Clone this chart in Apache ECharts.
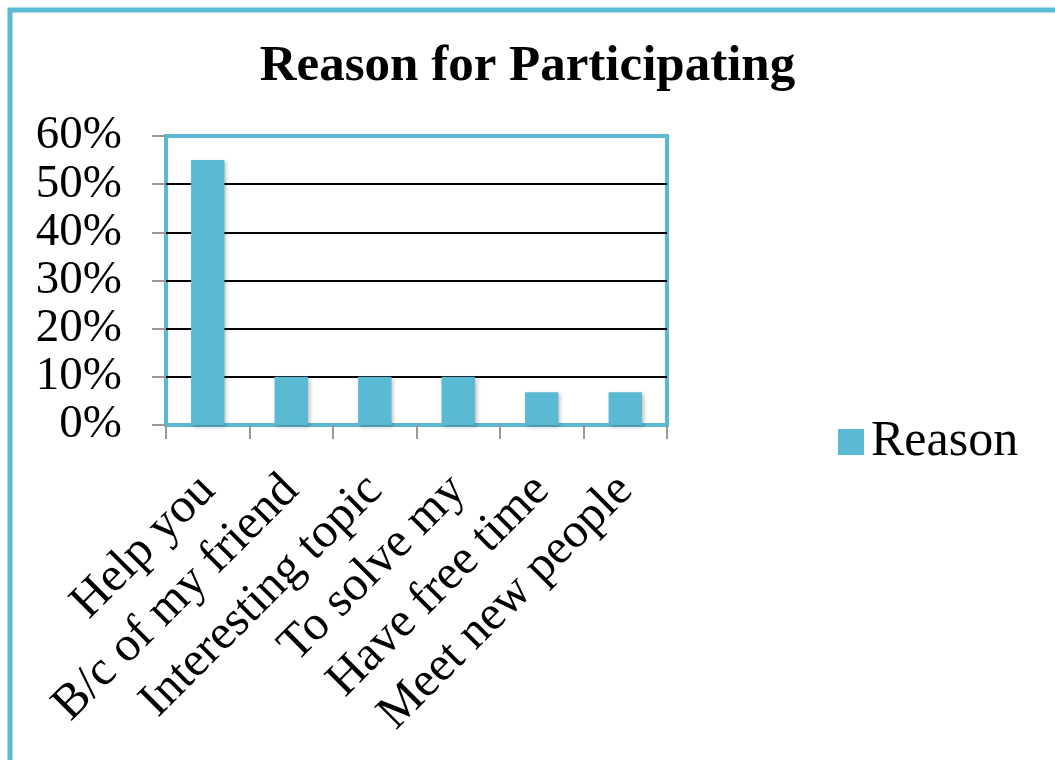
<!DOCTYPE html>
<html>
<head>
<meta charset="utf-8">
<script src="https://cdn.jsdelivr.net/npm/echarts@6/dist/echarts.min.js"></script>
<style>
  html, body { margin: 0; padding: 0; background: #fff; }
  #chart { width: 1055px; height: 760px; }
</style>
</head>
<body>
<div id="chart"></div>
<script>
// data
var categories = ["Help you", "B/c of my friend", "Interesting topic", "To solve my", "Have free time", "Meet new people"];
var reasonValues = [0.55, 0.10, 0.10, 0.10, 0.068, 0.068];
var seriesName = "Reason";
var titleText = "Reason for Participating";

var blue = "#5bbad3";
var font = "Liberation Serif";

var myChart = echarts.init(document.getElementById("chart"));

var option = {
  backgroundColor: "#fff",
  animation: false,
  graphic: [
    {
      // outer chart border (right and bottom are off the picture)
      type: "rect",
      shape: { x: 10, y: 10, width: 1100, height: 800 },
      style: { fill: "none", stroke: blue, lineWidth: 5 },
      silent: true,
    },
  ],
  title: {
    text: titleText,
    left: "center",
    top: 36,
    textStyle: {
      fontFamily: font,
      fontWeight: "bold",
      fontSize: 51,
      color: "#000",
    },
  },
  legend: {
    left: 833,
    top: 412,
    itemWidth: 26,
    itemHeight: 26,
    itemGap: 10,
    icon: "rect",
    data: [seriesName],
    textStyle: {
      fontFamily: font,
      fontSize: 50,
      color: "#000",
      padding: [0, 0, 0, 2],
    },
  },
  grid: {
    left: 166,
    right: 388,
    top: 136,
    bottom: 335,
    show: true,
    borderColor: blue,
    borderWidth: 4,
  },
  xAxis: {
    type: "category",
    data: categories,
    axisLine: { show: false },
    axisTick: {
      show: true,
      length: 14,
      lineStyle: { color: "#999", width: 2 },
    },
    axisLabel: {
      rotate: 45,
      margin: 58,
      interval: 0,
      fontFamily: font,
      fontSize: 49,
      color: "#000",
    },
  },
  yAxis: {
    type: "value",
    min: 0,
    max: 0.6,
    interval: 0.1,
    axisLine: { show: false },
    axisTick: {
      show: true,
      length: 14,
      lineStyle: { color: "#999", width: 2 },
    },
    axisLabel: {
      margin: 44,
      fontFamily: font,
      fontSize: 47,
      color: "#000",
      showMinLabel: true,
      showMaxLabel: true,
      formatter: function (v) {
        return Math.round(v * 100) + "%";
      },
    },
    splitLine: {
      show: true,
      showMinLine: false,
      showMaxLine: false,
      lineStyle: { color: "#000", width: 2 },
    },
  },
  series: [
    {
      name: seriesName,
      type: "bar",
      barWidth: "40%",
      data: reasonValues,
      itemStyle: {
        color: blue,
        shadowBlur: 4,
        shadowColor: "rgba(0,0,0,0.25)",
        shadowOffsetX: 2,
        shadowOffsetY: 2,
      },
    },
  ],
};

myChart.setOption(option);
</script>
</body>
</html>
